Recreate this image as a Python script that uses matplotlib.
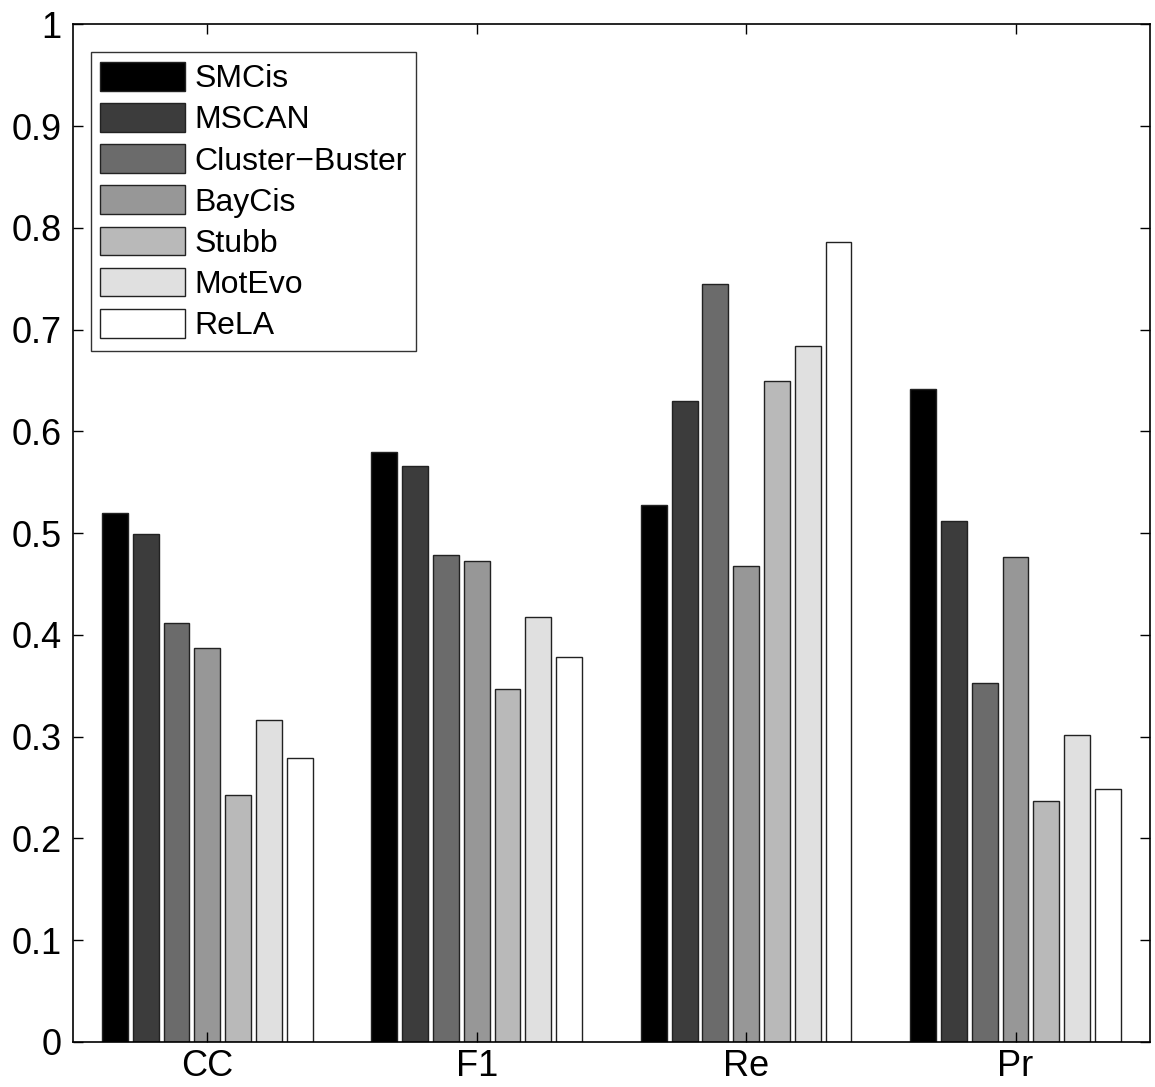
import numpy as np
import matplotlib
matplotlib.use("Agg")
from matplotlib import pyplot as plt

plt.rcParams['font.family'] = ['Liberation Sans', 'DejaVu Sans']

metrics = ['CC', 'F1', 'Re', 'Pr']
methods = ['SMCis', 'MSCAN', 'Cluster\u2212Buster', 'BayCis', 'Stubb', 'MotEvo', 'ReLA']
colors = ['#000000', '#3c3c3c', '#6b6b6b', '#979797', '#b9b9b9', '#e0e0e0', '#ffffff']

# one list per method, values for CC, F1, Re, Pr
smcis   = [0.520, 0.580, 0.528, 0.642]
mscan   = [0.499, 0.566, 0.630, 0.512]
cluster = [0.412, 0.479, 0.745, 0.353]
baycis  = [0.387, 0.473, 0.468, 0.477]
stubb   = [0.243, 0.347, 0.650, 0.237]
motevo  = [0.316, 0.418, 0.684, 0.302]
rela    = [0.279, 0.378, 0.786, 0.249]
values = [smcis, mscan, cluster, baycis, stubb, motevo, rela]

fig = plt.figure(figsize=(11.55, 10.87), dpi=100)
ax = fig.add_axes([0.0629, 0.0414, 0.9959 - 0.0629, 0.9776 - 0.0414])

n = len(methods)
x = np.arange(1, len(metrics) + 1)
step = 0.8 / n
for i in range(n):
    off = (i - (n - 1) / 2) * step
    ax.bar(x + off, values[i], width=step * 0.84, color=colors[i],
           edgecolor='#222222', linewidth=1.0, label=methods[i])

ax.set_xlim(0.5, 4.5)
ax.set_ylim(0, 1)
ax.set_xticks(x)
ax.set_xticklabels(metrics)
ax.set_yticks(np.arange(0, 1.01, 0.1))
ax.set_yticklabels(['0', '0.1', '0.2', '0.3', '0.4', '0.5', '0.6', '0.7', '0.8', '0.9', '1'])
ax.tick_params(direction='in', length=7, width=1, top=True, right=True,
               labelsize=26, pad=8)
ax.tick_params(axis='x', pad=5)
for s in ax.spines.values():
    s.set_linewidth(1.2)

leg = ax.legend(loc='upper left', bbox_to_anchor=(0.0167, 0.9725), fontsize=23,
                frameon=True, fancybox=False, edgecolor='black',
                handlelength=2.65, handleheight=1.0, handletextpad=0.3,
                labelspacing=0.28, borderpad=0.3, borderaxespad=0)
leg.get_frame().set_linewidth(1.0)

fig.savefig('out.png', dpi=100)
